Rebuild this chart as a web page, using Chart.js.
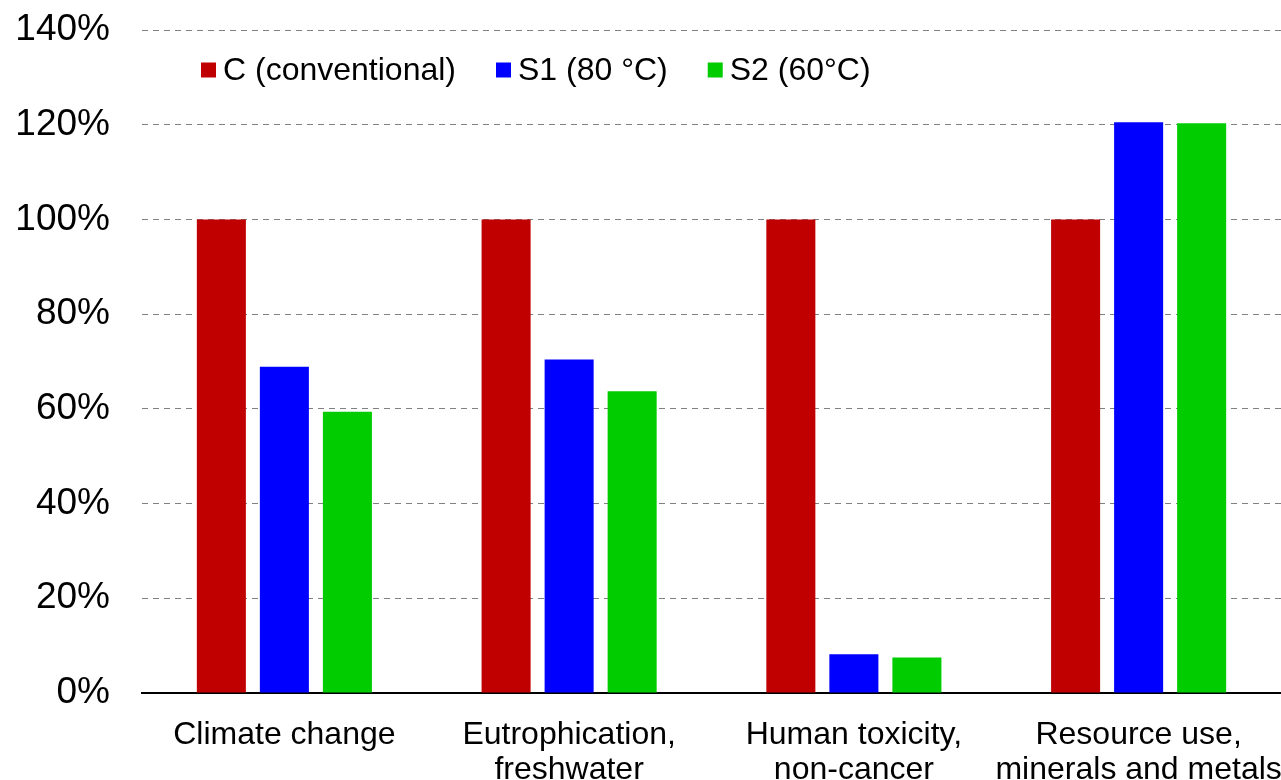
<!DOCTYPE html>
<html lang="en">
<head>
    <meta charset="UTF-8">
    <title>Impact categories</title>
    <script src="https://cdn.jsdelivr.net/npm/chart.js"></script>
    <style>
        body { margin: 0; background: #fff; }
        #wrap { width: 1281px; height: 780px; }
    </style>
</head>
<body>
    <div id="wrap"><canvas id="myChart" width="1281" height="780"></canvas></div>

    <script>
        // categories and series (percent of conventional)
        var categories = [
            'Climate change',
            ['Eutrophication,', 'freshwater'],
            ['Human toxicity,', 'non-cancer'],
            ['Resource use,', 'minerals and metals']
        ];
        var seriesNames = ['C (conventional)', 'S1 (80 °C)', 'S2 (60°C)'];
        var valuesC = [100, 100, 100, 100];
        var valuesS1 = [68.9, 70.4, 8.2, 120.5];
        var valuesS2 = [59.4, 63.7, 7.5, 120.3];
        var colors = ['#C00000', '#0000FF', '#00CC00'];

        var fontFamily = '"Liberation Sans", Arial, sans-serif';

        // legend drawn inside the plot area, top left
        var innerLegend = {
            id: 'innerLegend',
            afterDraw: function(chart) {
                var ctx = chart.ctx;
                var x = 201, y = 70, box = 15;
                ctx.save();
                ctx.font = '32px ' + fontFamily;
                ctx.textBaseline = 'middle';
                ctx.textAlign = 'left';
                chart.data.datasets.forEach(function(ds) {
                    ctx.fillStyle = ds.backgroundColor;
                    ctx.fillRect(x, y - box / 2, box, box);
                    ctx.fillStyle = '#000';
                    ctx.fillText(ds.label, x + box + 7, y + 1);
                    x += box + 7 + ctx.measureText(ds.label).width + 40;
                });
                ctx.restore();
            }
        };

        var ctx = document.getElementById('myChart').getContext('2d');
        var myChart = new Chart(ctx, {
            type: 'bar',
            data: {
                labels: categories,
                datasets: [
                    { label: seriesNames[0], data: valuesC, backgroundColor: colors[0] },
                    { label: seriesNames[1], data: valuesS1, backgroundColor: colors[1] },
                    { label: seriesNames[2], data: valuesS2, backgroundColor: colors[2] }
                ]
            },
            options: {
                responsive: false,
                animation: false,
                categoryPercentage: 0.664,
                barPercentage: 0.778,
                layout: { padding: { top: 30, right: 0, bottom: 0, left: 0 } },
                plugins: {
                    legend: { display: false },
                    tooltip: { enabled: false }
                },
                scales: {
                    x: {
                        z: 1,
                        grid: { display: false, drawTicks: false },
                        border: { display: true, color: '#000', width: 2 },
                        ticks: {
                            color: '#000',
                            padding: 25,
                            maxRotation: 0,
                            autoSkip: false,
                            font: { family: fontFamily, size: 32, lineHeight: 1.09 }
                        },
                        afterFit: function(scale) {
                            scale.height = 87;
                            scale.paddingLeft = 0;
                            scale.paddingRight = 0;
                        }
                    },
                    y: {
                        min: 0,
                        max: 140,
                        grid: { color: '#808080', lineWidth: 1, drawTicks: false },
                        border: { display: false, dash: [6, 5] },
                        ticks: {
                            stepSize: 20,
                            color: '#000',
                            padding: 32,
                            font: { family: fontFamily, size: 37 },
                            callback: function(v) { return v + '%'; }
                        },
                        afterFit: function(scale) {
                            scale.width = 142;
                            scale.paddingTop = 0;
                            scale.paddingBottom = 0;
                        }
                    }
                }
            },
            plugins: [innerLegend]
        });
    </script>
</body>
</html>
